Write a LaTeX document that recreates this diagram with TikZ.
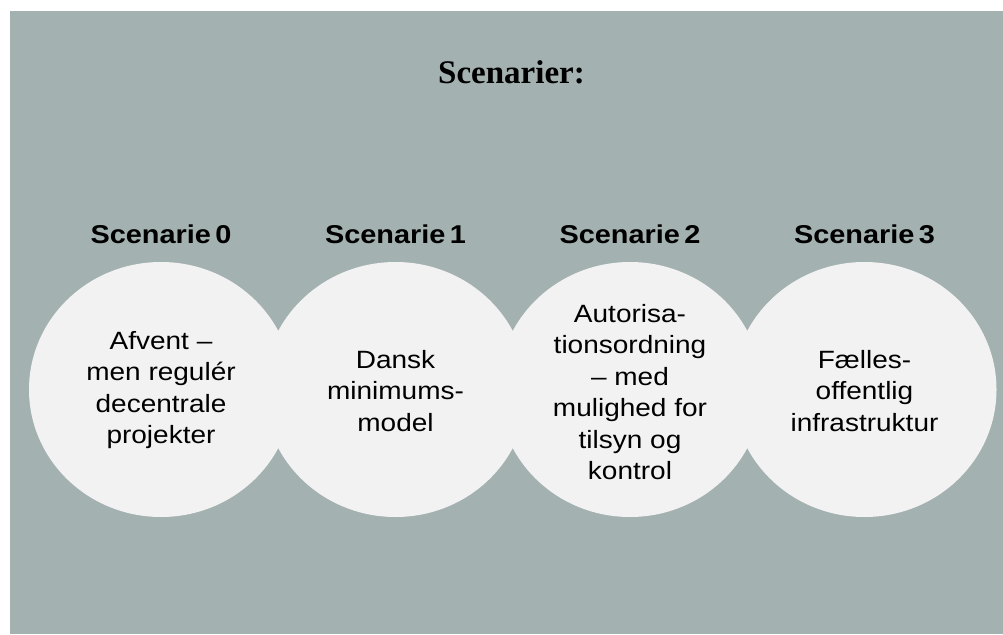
\documentclass[tikz,border=0pt]{standalone}
\usepackage{fontspec}
\usetikzlibrary{shapes.geometric}
\newfontfamily\labfont[FakeStretch=1.12]{Liberation Sans}
\newfontfamily\titlefont{Liberation Serif}
\definecolor{bggray}{RGB}{163,177,176}
\definecolor{circfill}{RGB}{242,242,242}
\begin{document}
\begin{tikzpicture}[x=1pt,y=-1pt,
  bubble/.style={ellipse, fill=circfill, minimum width=264pt, minimum height=255pt, inner sep=0pt},
  head/.style={font=\labfont\bfseries\fontsize{25.8}{30}\selectfont, anchor=base, inner sep=0pt},
  body/.style={font=\labfont\fontsize{25}{31.5}\selectfont, align=center, inner sep=0pt, anchor=center}]
\useasboundingbox (0,0) rectangle (1003,634);
\fill[white] (0,0) rectangle (1003,634);
\fill[bggray] (10,11) rectangle (1003,634);
\node[font=\titlefont\bfseries\fontsize{33}{38}\selectfont, anchor=base, inner sep=0pt] (title) at (511.5,83) {Scenarier:};
\foreach \i/\x in {0/161,1/395.5,2/630,3/864.5}{
  \node[bubble] (c\i) at (\x,389.5) {};
  \node[head] (h\i) at (\x,243) {Scenarie\,\i};
}
\node[body] (t0) at (161,390) {Afvent –\\men regulér\\decentrale\\projekter};
\node[body] (t1) at (395.5,391) {Dansk\\minimums-\\model};
\node[body] (t2) at (630,392) {Autorisa-\\tionsordning\\– med\\mulighed for\\tilsyn og\\kontrol};
\node[body] (t3) at (864.5,391) {Fælles-\\offentlig\\infrastruktur};
\end{tikzpicture}
\end{document}
